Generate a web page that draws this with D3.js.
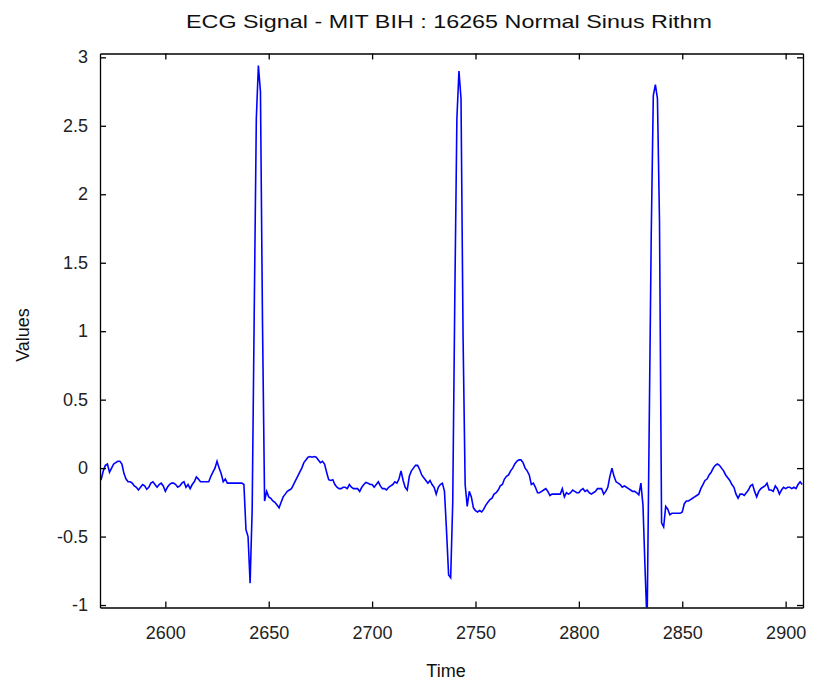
<!DOCTYPE html>
<html>
<head>
<meta charset="utf-8">
<script src="https://cdn.jsdelivr.net/npm/d3@7"></script>
<style>
  body { margin: 0; background: #fff; }
  svg { display: block; font-family: "Liberation Sans", Arial, sans-serif; }
</style>
</head>
<body>
<div id="chart"></div>
<script>
// ECG samples, one per time step starting at sampleStart
const sampleStart = 2568;
const ecgValues = [
  -0.10, -0.08, -0.02, 0.02, 0.03, -0.03, 0.00, 0.03, 0.04, 0.05,
  0.05, 0.03, -0.04, -0.08, -0.10, -0.10, -0.11, -0.13, -0.14, -0.16,
  -0.14, -0.12, -0.13, -0.155, -0.14, -0.11, -0.10, -0.12, -0.14, -0.12,
  -0.11, -0.13, -0.17, -0.14, -0.12, -0.11, -0.11, -0.12, -0.14, -0.13,
  -0.11, -0.10, -0.14, -0.12, -0.15, -0.12, -0.10, -0.065, -0.08, -0.10,
  -0.10, -0.10, -0.10, -0.10, -0.06, -0.03, 0.00, 0.05, 0.00, -0.04,
  -0.10, -0.08, -0.11, -0.11, -0.11, -0.11, -0.11, -0.11, -0.11, -0.11,
  -0.12, -0.45, -0.50, -0.84, -0.30, 1.15, 2.55, 2.94, 2.75, 1.05,
  -0.24, -0.17, -0.21, -0.22, -0.24, -0.25, -0.27, -0.29, -0.25, -0.21,
  -0.19, -0.17, -0.16, -0.15, -0.12, -0.09, -0.06, -0.03, 0.00, 0.04,
  0.06, 0.08, 0.085, 0.08, 0.085, 0.08, 0.06, 0.04, 0.05, 0.03,
  -0.03, -0.085, -0.09, -0.085, -0.12, -0.14, -0.15, -0.15, -0.14, -0.14,
  -0.15, -0.12, -0.14, -0.15, -0.15, -0.15, -0.17, -0.14, -0.12, -0.105,
  -0.11, -0.12, -0.12, -0.14, -0.12, -0.10, -0.13, -0.15, -0.15, -0.16,
  -0.14, -0.13, -0.12, -0.10, -0.11, -0.08, -0.02, -0.09, -0.14, -0.16,
  -0.06, -0.02, 0.00, 0.02, 0.02, -0.01, -0.05, -0.07, -0.09, -0.11,
  -0.09, -0.12, -0.14, -0.19, -0.14, -0.12, -0.11, -0.17, -0.46, -0.78,
  -0.80, -0.25, 1.25, 2.55, 2.90, 2.70, 0.95, -0.12, -0.28, -0.17,
  -0.21, -0.29, -0.31, -0.32, -0.31, -0.32, -0.30, -0.27, -0.25, -0.23,
  -0.22, -0.19, -0.18, -0.16, -0.13, -0.12, -0.08, -0.06, -0.05, -0.02,
  0.00, 0.03, 0.05, 0.06, 0.06, 0.04, 0.00, -0.02, -0.05, -0.12,
  -0.11, -0.14, -0.18, -0.18, -0.17, -0.16, -0.15, -0.17, -0.20, -0.19,
  -0.19, -0.19, -0.19, -0.19, -0.15, -0.21, -0.18, -0.19, -0.18, -0.16,
  -0.17, -0.18, -0.18, -0.16, -0.15, -0.17, -0.16, -0.18, -0.19, -0.18,
  -0.17, -0.15, -0.15, -0.15, -0.19, -0.17, -0.14, -0.06, 0.00, -0.06,
  -0.10, -0.11, -0.12, -0.14, -0.13, -0.14, -0.15, -0.16, -0.17, -0.17,
  -0.18, -0.195, -0.11, -0.27, -0.73, -1.15, 0.28, 1.70, 2.72, 2.80,
  2.70, 1.80, -0.40, -0.43, -0.28, -0.30, -0.34, -0.33, -0.33, -0.33,
  -0.33, -0.33, -0.32, -0.26, -0.24, -0.24, -0.23, -0.22, -0.21, -0.20,
  -0.19, -0.15, -0.12, -0.09, -0.08, -0.05, -0.03, 0.00, 0.02, 0.03,
  0.02, 0.00, -0.02, -0.05, -0.07, -0.09, -0.12, -0.14, -0.19, -0.22,
  -0.19, -0.19, -0.20, -0.18, -0.16, -0.13, -0.12, -0.17, -0.21, -0.17,
  -0.15, -0.14, -0.13, -0.11, -0.16, -0.16, -0.17, -0.13, -0.15, -0.19,
  -0.16, -0.14, -0.15, -0.14, -0.14, -0.15, -0.14, -0.15, -0.12, -0.10,
  -0.12
];
const xTicks = [2600, 2650, 2700, 2750, 2800, 2850, 2900];
const yTicks = [-1, -0.5, 0, 0.5, 1, 1.5, 2, 2.5, 3];
const xLimits = [2568.4, 2908.4];
const yLimits = [-1.018, 3.028];

const width = 813;
const height = 683;
const margin = { top: 53.5, right: 10, bottom: 75.5, left: 100 };
const innerWidth = width - margin.left - margin.right;
const innerHeight = height - margin.top - margin.bottom;

const data = ecgValues.map((v, i) => ({ t: sampleStart + i, v }));

const svg = d3.select('#chart')
  .append('svg')
  .attr('width', width)
  .attr('height', height);

svg.append('rect')
  .attr('width', width)
  .attr('height', height)
  .attr('fill', '#fff');

const g = svg.append('g')
  .attr('transform', `translate(${margin.left},${margin.top})`);

const x = d3.scaleLinear().domain(xLimits).range([0, innerWidth]);
const y = d3.scaleLinear().domain(yLimits).range([innerHeight, 0]);

svg.append('defs').append('clipPath')
  .attr('id', 'plot-clip')
  .append('rect')
  .attr('width', innerWidth)
  .attr('height', innerHeight);

// signal
const line = d3.line()
  .x(d => x(d.t))
  .y(d => y(d.v));

g.append('path')
  .datum(data)
  .attr('clip-path', 'url(#plot-clip)')
  .attr('fill', 'none')
  .attr('stroke', '#0000ff')
  .attr('stroke-width', 1.6)
  .attr('d', line);

// box axes, ticks pointing inward on all sides
const tickLen = 6;
const plain = d => String(d);

const styleAxis = sel => {
  sel.attr('font-family', null).attr('font-size', 18);
  sel.select('.domain').attr('stroke', '#000').attr('stroke-width', 1.3);
  sel.selectAll('.tick line').attr('stroke', '#000').attr('stroke-width', 1.3);
  sel.selectAll('text').attr('fill', '#222');
};
const dropLabels = sel => sel.selectAll('.tick text').remove();

g.append('g')
  .attr('transform', `translate(0,${innerHeight})`)
  .call(d3.axisBottom(x).tickValues(xTicks).tickSizeInner(-tickLen).tickSizeOuter(0).tickPadding(19).tickFormat(plain))
  .call(styleAxis);

g.append('g')
  .call(d3.axisTop(x).tickValues(xTicks).tickSizeInner(-tickLen).tickSizeOuter(0))
  .call(dropLabels)
  .call(styleAxis);

g.append('g')
  .call(d3.axisLeft(y).tickValues(yTicks).tickSizeInner(-tickLen).tickSizeOuter(0))
  .call(dropLabels)
  .call(styleAxis);

g.append('g')
  .attr('transform', `translate(${innerWidth},0)`)
  .call(d3.axisRight(y).tickValues(yTicks).tickSizeInner(-tickLen).tickSizeOuter(0))
  .call(dropLabels)
  .call(styleAxis);

// y tick labels
g.append('g')
  .selectAll('text')
  .data(yTicks)
  .enter()
  .append('text')
  .attr('x', -12)
  .attr('y', d => y(d) + 6)
  .attr('text-anchor', 'end')
  .attr('fill', '#222')
  .attr('font-size', 18)
  .text(plain);

// labels
svg.append('text')
  .attr('x', 449)
  .attr('y', 28)
  .attr('text-anchor', 'middle')
  .attr('fill', '#111')
  .attr('font-size', 19)
  .attr('textLength', 526)
  .attr('lengthAdjust', 'spacingAndGlyphs')
  .text('ECG Signal - MIT BIH : 16265 Normal Sinus Rithm');

svg.append('text')
  .attr('x', 446)
  .attr('y', 677)
  .attr('text-anchor', 'middle')
  .attr('fill', '#111')
  .attr('font-size', 18)
  .text('Time');

svg.append('text')
  .attr('transform', 'translate(29,335) rotate(-90)')
  .attr('text-anchor', 'middle')
  .attr('fill', '#111')
  .attr('font-size', 18)
  .text('Values');
</script>
</body>
</html>
